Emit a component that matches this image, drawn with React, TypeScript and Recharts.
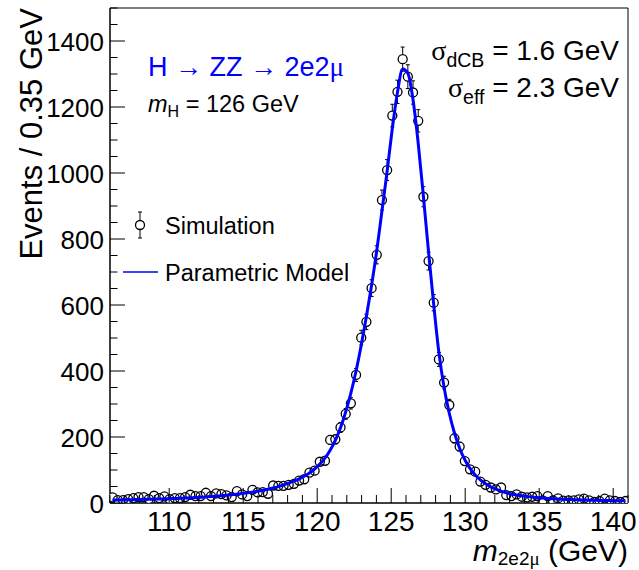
import React from 'react';
import {
  ComposedChart,
  Scatter,
  Line,
  XAxis,
  YAxis,
  ErrorBar,
  ReferenceArea,
  Legend,
} from 'recharts';

// ---------- data ----------
const BIN_LOW = 106;
const BIN_WIDTH = 0.35;

// Simulated events per 0.35 GeV bin (100 bins from 106 to 141 GeV)
const simulationCounts = [
  17, 9, 9, 12, 15, 18, 18, 12, 22, 15,
  20, 12, 15, 15, 18, 25, 21, 21, 31, 21,
  29, 27, 23, 18, 36, 26, 21, 40, 32, 33,
  28, 53, 52, 52, 55, 58, 68, 72, 92, 98,
  125, 128, 191, 193, 229, 270, 302, 388, 501, 549,
  651, 752, 918, 1009, 1174, 1246, 1345, 1292, 1244, 1158,
  928, 733, 607, 435, 365, 297, 196, 171, 127, 102,
  95, 65, 55, 47, 41, 47, 24, 21, 26, 19,
  17, 19, 21, 8, 21, 8, 14, 7, 8, 8,
  11, 13, 8, 3, 6, 13, 8, 6, 3, 6,
];

// Parametric (double Crystal Ball) model at the bin centres
const modelValues = [
  9, 9.3, 9.6, 10, 10.3, 10.7, 11, 11.4, 11.8, 12.2,
  12.7, 13.2, 13.7, 14.3, 15, 15.7, 16.5, 17.4, 18.4, 19.5,
  20.7, 22, 23.4, 25, 26.7, 28.6, 30.7, 33, 35.6, 38.5,
  41.8, 45.5, 49.7, 54.5, 60, 66, 73, 81, 91, 103,
  118, 136, 160, 190, 228, 276, 333, 400, 478, 565,
  660, 765, 885, 1005, 1135, 1245, 1315, 1302, 1222, 1090,
  930, 760, 600, 455, 350, 272, 212, 166, 131, 105,
  85, 70, 58, 49, 42, 36, 31, 27.5, 24.5, 22,
  20, 18, 16.5, 15, 14, 13, 12, 11.3, 10.7, 10.1,
  9.6, 9.1, 8.7, 8.3, 7.9, 7.6, 7.3, 7, 6.7, 6.5,
];

const xTickValues = [
  106, 107, 108, 109, 110, 111, 112, 113, 114, 115, 116, 117, 118,
  119, 120, 121, 122, 123, 124, 125, 126, 127, 128, 129, 130, 131,
  132, 133, 134, 135, 136, 137, 138, 139, 140, 141,
];
const xTickLabels = [110, 115, 120, 125, 130, 135, 140];

const yTickValues = [
  0, 50, 100, 150, 200, 250, 300, 350, 400, 450, 500, 550, 600, 650, 700,
  750, 800, 850, 900, 950, 1000, 1050, 1100, 1150, 1200, 1250, 1300, 1350,
  1400, 1450, 1500,
];
const yTickLabels = [0, 200, 400, 600, 800, 1000, 1200, 1400];

const X_DOMAIN: [number, number] = [106, 141];
const Y_DOMAIN: [number, number] = [0, 1500];

const tableRows = simulationCounts.map((count, i) => ({
  mass: BIN_LOW + BIN_WIDTH * (i + 0.5),
  count,
  err: Math.sqrt(count),
  model: modelValues[i],
}));

// ---------- style ----------
const FONT = "'Liberation Sans', Arial, Helvetica, sans-serif";
const SERIF = "'Liberation Serif', 'Times New Roman', serif";
const BLUE = '#0000ff';
const X_TICK_MARGIN = 8;
const Y_TICK_MARGIN = 6;
const CHART_W = 639;
const CHART_H = 570;
const MARGIN = { top: 8, right: 11, bottom: 0, left: 0 };
const X_AXIS_H = 67;
const Y_AXIS_W = 110;
const MARKER_R = 4.5;

const XTick = (props: any) => {
  const { x, y, payload } = props;
  const v = payload.value;
  const major = xTickLabels.includes(v);
  const axisY = y - X_TICK_MARGIN;
  return (
    <g>
      <line x1={x} x2={x} y1={axisY} y2={axisY - (major ? 15 : 8)} stroke="#000" strokeWidth={1} />
      {major && (
        <text x={x} y={axisY + 28} textAnchor="middle" fontSize={28} fontFamily={FONT} fill="#000">
          {v}
        </text>
      )}
    </g>
  );
};

const YTick = (props: any) => {
  const { x, y, payload } = props;
  const v = payload.value;
  const major = yTickLabels.includes(v);
  const axisX = x + Y_TICK_MARGIN;
  return (
    <g>
      <line x1={axisX} x2={axisX + (major ? 15 : 7.5)} y1={y} y2={y} stroke="#000" strokeWidth={1} />
      {major && (
        <text x={x} y={y + 9.5} textAnchor="end" fontSize={26} fontFamily={FONT} fill="#000">
          {v}
        </text>
      )}
    </g>
  );
};

const YTitle = (props: any) => {
  const vb = props.viewBox || { x: 0, y: 0 };
  const tx = vb.x + 42;
  const ty = vb.y;
  return (
    <text
      x={tx}
      y={ty}
      transform={`rotate(-90 ${tx} ${ty})`}
      textAnchor="end"
      fontSize={31}
      fontFamily={FONT}
      fill="#000"
    >
      Events / 0.35 GeV
    </text>
  );
};

const XTitle = (props: any) => {
  const vb = props.viewBox || { x: 0, y: 0, width: 0 };
  const tx = vb.x + vb.width;
  const ty = vb.y + 58;
  return (
    <text x={tx} y={ty} textAnchor="end" fontSize={30} fontFamily={FONT} fill="#000">
      <tspan fontStyle="italic">m</tspan>
      <tspan fontSize={19} dy={4}>2e2</tspan>
      <tspan fontSize={19} fontFamily={SERIF}>μ</tspan>
      <tspan dy={-4}> (GeV)</tspan>
    </text>
  );
};

// white disc that hides the error bar inside the marker
const MarkerDisc = (props: any) => {
  const { cx, cy } = props;
  if (cx == null || cy == null) return null;
  return <circle cx={cx} cy={cy} r={MARKER_R} fill="#fff" stroke="none" />;
};

// hollow ring drawn on top so overlapping markers stay visible
const MarkerRing = (props: any) => {
  const { cx, cy } = props;
  if (cx == null || cy == null) return null;
  return <circle cx={cx} cy={cy} r={MARKER_R} fill="none" stroke="#000" strokeWidth={1.3} />;
};

const LegendContent = () => (
  <svg width={260} height={92} style={{ overflow: 'visible' }}>
    <line x1={22} x2={22} y1={9} y2={35} stroke="#000" strokeWidth={1} />
    <line x1={20} x2={24} y1={9} y2={9} stroke="#000" strokeWidth={1} />
    <line x1={20} x2={24} y1={35} y2={35} stroke="#000" strokeWidth={1} />
    <circle cx={22} cy={22} r={MARKER_R} fill="#fff" stroke="#000" strokeWidth={1.3} />
    <text x={47} y={31} fontSize={23.5} fontFamily={FONT} fill="#000">Simulation</text>
    <line x1={5} x2={40} y1={69} y2={69} stroke={BLUE} strokeWidth={1.5} />
    <text x={47} y={78} fontSize={23.5} fontFamily={FONT} fill="#000">Parametric Model</text>
  </svg>
);

export default function App() {
  return (
    <div style={{ position: 'absolute', left: 0, top: 0, width: CHART_W, height: CHART_H, background: '#fff' }}>
      <div style={{ position: 'absolute', left: 0, top: 0 }}>
        <ComposedChart width={CHART_W} height={CHART_H} data={tableRows} margin={MARGIN}>
          <XAxis
            dataKey="mass"
            type="number"
            domain={X_DOMAIN}
            ticks={xTickValues}
            interval={0}
            tickSize={0}
            tickMargin={X_TICK_MARGIN}
            tickLine={false}
            tick={<XTick />}
            axisLine={{ stroke: '#000', strokeWidth: 1 }}
            height={X_AXIS_H}
            allowDataOverflow
            label={<XTitle />}
          />
          <YAxis
            type="number"
            domain={Y_DOMAIN}
            ticks={yTickValues}
            interval={0}
            tickSize={0}
            tickMargin={Y_TICK_MARGIN}
            tickLine={false}
            tick={<YTick />}
            axisLine={{ stroke: '#000', strokeWidth: 1 }}
            width={Y_AXIS_W}
            allowDataOverflow
            label={<YTitle />}
          />
          <ReferenceArea x1={106} x2={141} y1={0} y2={1500} fill="none" stroke="#000" strokeWidth={1} />
          <Scatter dataKey="count" isAnimationActive={false} shape={<MarkerDisc />}>
            <ErrorBar dataKey="err" direction="y" width={2} stroke="#000" strokeWidth={1} />
          </Scatter>
          <Scatter dataKey="count" isAnimationActive={false} shape={<MarkerRing />} />
          <Legend
            layout="vertical"
            align="center"
            verticalAlign="middle"
            wrapperStyle={{ left: 118, top: 203, width: 260, height: 92 }}
            content={<LegendContent />}
          />
        </ComposedChart>
      </div>
      {/* model curve drawn on top of the markers, same plot area */}
      <div style={{ position: 'absolute', left: 0, top: 0, pointerEvents: 'none' }}>
        <ComposedChart
          width={CHART_W}
          height={CHART_H}
          data={tableRows}
          margin={{
            top: MARGIN.top,
            right: MARGIN.right,
            bottom: MARGIN.bottom + X_AXIS_H,
            left: MARGIN.left + Y_AXIS_W,
          }}
        >
          <XAxis dataKey="mass" type="number" domain={X_DOMAIN} hide allowDataOverflow />
          <YAxis type="number" domain={Y_DOMAIN} hide allowDataOverflow />
          <Line
            dataKey="model"
            type="monotone"
            stroke={BLUE}
            strokeWidth={3}
            dot={false}
            activeDot={false}
            isAnimationActive={false}
          />
        </ComposedChart>
      </div>
      <svg
        width={CHART_W}
        height={CHART_H}
        style={{ position: 'absolute', left: 0, top: 0, pointerEvents: 'none' }}
      >
        <text x={148} y={76} fontSize={27} fontFamily={FONT} fill={BLUE}>
          H → ZZ → 2e2<tspan fontFamily={SERIF}>μ</tspan>
        </text>
        <text x={148} y={112} fontSize={23.5} fontFamily={FONT} fill="#000">
          <tspan fontStyle="italic">m</tspan>
          <tspan fontSize={16} dy={5}>H</tspan>
          <tspan dy={-5}> = 126 GeV</tspan>
        </text>
        <text x={619} y={60} textAnchor="end" fontSize={28} fontFamily={FONT} fill="#000">
          <tspan fontFamily={SERIF}>σ</tspan>
          <tspan fontSize={19.5} dy={7}>dCB</tspan>
          <tspan dy={-7}> = 1.6 GeV</tspan>
        </text>
        <text x={619} y={97} textAnchor="end" fontSize={28} fontFamily={FONT} fill="#000">
          <tspan fontFamily={SERIF}>σ</tspan>
          <tspan fontSize={19.5} dy={7}>eff</tspan>
          <tspan dy={-7}> = 2.3 GeV</tspan>
        </text>
      </svg>
    </div>
  );
}
